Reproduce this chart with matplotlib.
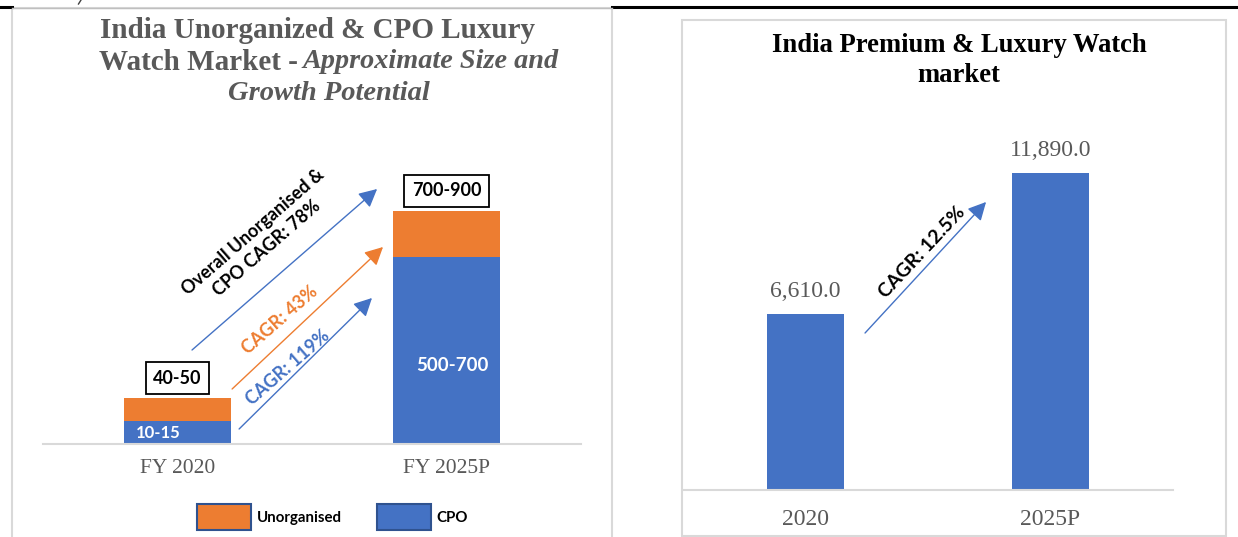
import matplotlib.pyplot as plt
from matplotlib.patches import Patch, Rectangle
import numpy as np

# left chart data (schematic stacked bars)
periods_left = ["FY 2020", "FY 2025P"]
cpo = [23, 187]
unorganised = [23, 46]
cpo_labels = ["10-15", "500-700"]
total_labels = ["40-50", "700-900"]

# right chart data
years_right = ["2020", "2025P"]
market_size = [6610.0, 11890.0]

BLUE = "#4472C4"
ORANGE = "#ED7D31"
GREY_TXT = "#595959"
BORDER = "#D9D9D9"
SERIF = "Liberation Serif"
SANS = "Lato"

W, H = 1238, 537


def px_box(x0, y0, x1, y1):
    return [x0 / W, 1 - y1 / H, (x1 - x0) / W, (y1 - y0) / H]


fig = plt.figure(figsize=(W / 100, H / 100), dpi=100)
fig.patch.set_facecolor("white")

# background layer in pixel coordinates: panel borders, page rule, titles
bg = fig.add_axes([0, 0, 1, 1], zorder=-1)
bg.set_xlim(0, W)
bg.set_ylim(H, 0)
bg.axis("off")
bg.plot([0, 12], [7, 7], color="black", lw=2.2)
bg.plot([612, W], [7, 7], color="black", lw=2.2)
bg.plot([12, 612], [8, 8], color="#BFBFBF", lw=1)
bg.add_patch(Rectangle((12, 8), 600, 540, fill=False, ec=BORDER, lw=1.5))
bg.add_patch(Rectangle((682, 20), 544, 516, fill=False, ec=BORDER, lw=1.5))
# stray glyph fragment from the page above
bg.plot([81, 78.5], [0, 4], color="#404040", lw=1)

# left title
bg.text(318, 30, "India Unorganized & CPO Luxury", fontsize=21, family=SERIF,
        weight="bold", color=GREY_TXT, ha="center", va="center")
bg.text(298, 62, "Watch Market -", fontsize=21, family=SERIF,
        weight="bold", color=GREY_TXT, ha="right", va="center")
bg.text(302, 62, "Approximate Size and", fontsize=20.3, family=SERIF,
        weight="bold", style="italic", color=GREY_TXT, ha="left", va="center")
bg.text(329, 94, "Growth Potential", fontsize=20.5, family=SERIF,
        weight="bold", style="italic", color=GREY_TXT, ha="center", va="center")

# right title
bg.text(959, 46, "India Premium & Luxury Watch", fontsize=19.2,
        family=SERIF, weight="bold", color="black", ha="center", va="center")
bg.text(959, 76, "market", fontsize=19.2,
        family=SERIF, weight="bold", color="black", ha="center", va="center")

# ---------------- left chart ----------------
ax1 = fig.add_axes(px_box(43, 150, 581, 444))
x = np.arange(len(periods_left))
bw = 0.40
ax1.bar(x, cpo, bw, color=BLUE)
ax1.bar(x, unorganised, bw, bottom=cpo, color=ORANGE)
ax1.set_xlim(-0.5, 1.5)
ax1.set_ylim(0, 294)
for s in ["top", "left", "right"]:
    ax1.spines[s].set_visible(False)
ax1.spines["bottom"].set_color(BORDER)
ax1.spines["bottom"].set_linewidth(1.5)
ax1.set_yticks([])
ax1.set_xticks(x)
ax1.set_xticklabels(periods_left, fontsize=15.5, family=SERIF, color=GREY_TXT)
ax1.tick_params(axis="x", length=0, pad=10.5)
ax1.patch.set_alpha(0)

ax1.text(x[0] - bw / 2 + 0.045, cpo[0] / 2, cpo_labels[0], color="white",
         fontsize=12, family=SANS, weight="bold", ha="left", va="center")
ax1.text(x[1] + 0.02, cpo[1] * 0.42, cpo_labels[1], color="white",
         fontsize=13.5, family=SANS, weight="bold", ha="center", va="center")
for i in range(len(x)):
    top = cpo[i] + unorganised[i]
    ax1.text(x[i], top + 20, total_labels[i], fontsize=13, family=SANS,
             weight="bold", ha="center", va="center",
             bbox=dict(boxstyle="square,pad=0.42", fc="white", ec="black", lw=1.3))


def arrow(ax, start, tip, color):
    ax.annotate("", xy=tip, xytext=start, annotation_clip=False,
                arrowprops=dict(arrowstyle="-|>,head_length=0.55,head_width=0.28",
                                color=color, lw=1.0, mutation_scale=20,
                                shrinkA=0, shrinkB=0))


arrow(ax1, (0.054, 94), (0.742, 255), BLUE)
arrow(ax1, (0.203, 55), (0.764, 197), ORANGE)
arrow(ax1, (0.229, 15), (0.723, 146), BLUE)

ax1.text(0.305, 204, "Overall Unorganised &\nCPO CAGR: 78%", rotation=41,
         rotation_mode="anchor", fontsize=13, family=SANS, weight="bold",
         ha="center", va="center", linespacing=1.25)
ax1.text(0.381, 124, "CAGR: 43%", rotation=41, rotation_mode="anchor",
         fontsize=13, family=SANS, weight="bold", color=ORANGE,
         ha="center", va="center")
ax1.text(0.411, 76, "CAGR: 119%", rotation=41, rotation_mode="anchor",
         fontsize=13, family=SANS, weight="bold", color=BLUE,
         ha="center", va="center")

leg = fig.legend(handles=[Patch(fc=ORANGE, ec="#2F528F", lw=1.5, label="Unorganised"),
                          Patch(fc=BLUE, ec="#2F528F", lw=1.5, label="CPO")],
                 loc="center left", bbox_to_anchor=(197 / W, 1 - 517 / H), ncol=2,
                 frameon=False, prop=dict(family=SANS, weight="bold", size=10.8),
                 handlelength=3.6, handleheight=2.3, handletextpad=0.4,
                 columnspacing=2.3, borderpad=0, borderaxespad=0)

# ---------------- right chart ----------------
ax2 = fig.add_axes(px_box(683, 130, 1173, 490))
xr = np.arange(len(years_right))
bars = ax2.bar(xr, market_size, 0.314, color=BLUE)
ax2.set_xlim(-0.5, 1.5)
ax2.set_ylim(0, 6610.0 * 360 / 176)
for s in ["top", "left", "right"]:
    ax2.spines[s].set_visible(False)
ax2.spines["bottom"].set_color(BORDER)
ax2.spines["bottom"].set_linewidth(1.5)
ax2.set_yticks([])
ax2.set_xticks(xr)
ax2.set_xticklabels(years_right, fontsize=17, family=SERIF, color=GREY_TXT)
ax2.tick_params(axis="x", length=0, pad=14)
ax2.patch.set_alpha(0)
ax2.bar_label(bars, labels=[f"{v:,.1f}" for v in market_size], padding=9,
              fontsize=17, family=SERIF, color=GREY_TXT)

arrow(ax2, (0.243, 5896), (0.737, 10817), BLUE)
ax2.text(0.476, 8939, "CAGR: 12.5%", rotation=47, rotation_mode="anchor",
         fontsize=14, family=SANS, weight="bold", ha="center", va="center")

fig.savefig("out.png", dpi=100)
